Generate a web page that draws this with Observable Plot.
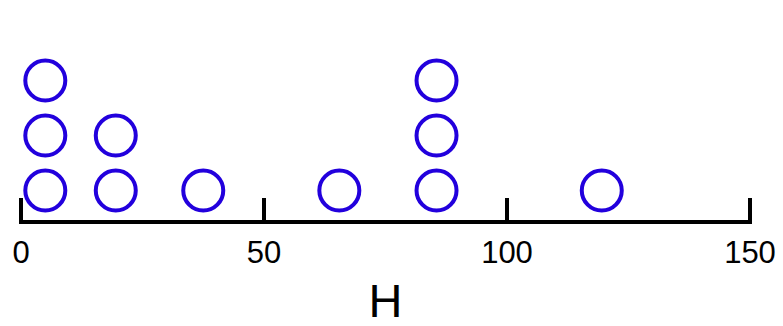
<!DOCTYPE html>
<html>
<head>
<meta charset="utf-8">
<script src="https://cdn.jsdelivr.net/npm/d3@7"></script>
<script src="https://cdn.jsdelivr.net/npm/@observablehq/plot@0.6"></script>
<style>
  html, body { margin: 0; padding: 0; background: #fff; }
  #chart svg { display: block; }
</style>
</head>
<body>
<div id="chart"></div>
<script>
// Observed H values, one entry per dot; repeated values stack upward.
const hValues = [5, 5, 5, 19.5, 19.5, 37.5, 65.5, 85.5, 85.5, 85.5, 119.5];
const tickValues = [0, 50, 100, 150];
const axisLabel = "H";

// Give each dot its level in the stack of equal values.
const seen = new Map();
const dots = hValues.map(h => {
  const level = (seen.get(h) || 0) + 1;
  seen.set(h, level);
  return {H: h, level};
});

const width = 783, height = 326;
const marginBottom = 104.5;

const chart = Plot.plot({
  width, height,
  marginTop: 0,
  marginLeft: 20.5,
  marginRight: 33.5,
  marginBottom,
  style: {fontFamily: "'Liberation Sans', Arial, sans-serif", color: "black", background: "white"},
  x: {domain: [0, 150]},
  y: {domain: [1, 3], range: [190, 80], axis: null},
  marks: [
    Plot.frame({anchor: "bottom", stroke: "black", strokeWidth: 4}),
    Plot.tickX(tickValues, {x: d => d, stroke: "black", strokeWidth: 4, insetTop: 198, insetBottom: -2}),
    Plot.axisX({
      ticks: tickValues,
      tickSize: 0,
      tickPadding: 18.5,
      fontSize: 31,
      label: axisLabel,
      labelAnchor: "center",
      labelArrow: "none",
      labelOffset: 95
    }),
    Plot.dot(dots, {x: "H", y: "level", r: 20, fill: "none", stroke: "#2200dd", strokeWidth: 4})
  ]
});

// Larger type for the axis title than for the tick labels.
chart.querySelectorAll("[aria-label='x-axis label'] text").forEach(t => t.setAttribute("font-size", 47));
document.getElementById("chart").append(chart);
</script>
</body>
</html>
